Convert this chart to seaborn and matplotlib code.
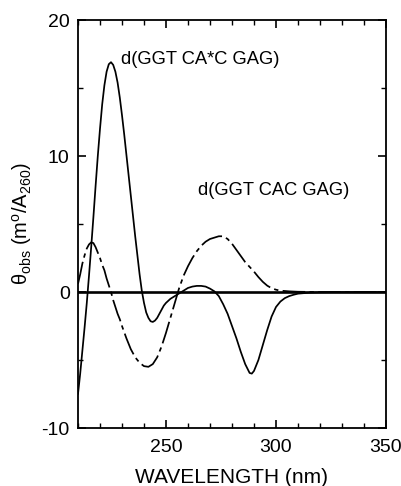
import matplotlib
matplotlib.use("Agg")
import matplotlib.pyplot as plt
from matplotlib.ticker import MultipleLocator
import seaborn as sns
import pandas as pd

# Wavelength (nm) and CD signal
wl_solid = [210, 211, 212, 213, 214, 215, 216, 217, 218, 219, 220, 221, 222, 223, 224, 225,
            226, 227, 228, 229, 230, 231, 232, 233, 234, 235, 236, 237, 238, 239, 240, 241,
            242, 243, 244, 245, 246, 247, 248, 249, 250, 252, 254, 256, 258, 260, 262, 264,
            266, 268, 270, 272, 274, 276, 278, 280, 282, 284, 286, 288, 289, 290, 292, 294,
            296, 298, 300, 302, 304, 306, 308, 310, 315, 320, 330, 340, 350]
theta_solid = [-7.5, -6.0, -4.3, -2.6, -0.8, 1.2, 3.3, 5.5, 7.8, 10.0, 12.0, 13.8, 15.2, 16.2, 16.75, 16.9,
               16.7, 16.2, 15.4, 14.3, 13.0, 11.6, 10.1, 8.6, 7.1, 5.6, 4.1, 2.7, 1.3, 0.1, -0.8, -1.5,
               -1.9, -2.15, -2.2, -2.1, -1.9, -1.6, -1.3, -1.0, -0.8, -0.5, -0.3, -0.1, 0.1, 0.3, 0.4, 0.45,
               0.45, 0.4, 0.25, 0.05, -0.3, -0.9, -1.6, -2.5, -3.4, -4.4, -5.3, -5.95, -6.0, -5.8, -5.0, -3.9,
               -2.8, -1.8, -1.1, -0.7, -0.45, -0.3, -0.2, -0.12, -0.05, -0.02, 0.0, 0.0, 0.0]

wl_dash = [210, 211, 212, 213, 214, 215, 216, 217, 218, 219, 220, 221, 222, 223, 224, 225,
           226, 227, 228, 229, 230, 232, 234, 236, 238, 240, 242, 244, 246, 248, 250, 252,
           254, 256, 258, 260, 262, 264, 266, 268, 270, 272, 274, 276, 278, 280, 282, 284,
           286, 288, 290, 292, 294, 296, 298, 300, 302, 306, 310, 320, 350]
theta_dash = [0.6, 1.3, 2.1, 2.7, 3.2, 3.5, 3.65, 3.6, 3.3, 2.9, 2.5, 2.0, 1.6, 1.0, 0.5, 0.0,
              -0.6, -1.1, -1.6, -2.0, -2.5, -3.4, -4.2, -4.8, -5.2, -5.45, -5.5, -5.3, -4.8, -4.0, -3.0, -1.9,
              -0.8, 0.3, 1.2, 1.9, 2.5, 3.0, 3.4, 3.7, 3.9, 4.0, 4.1, 4.1, 3.9, 3.55, 3.1, 2.65,
              2.2, 1.85, 1.5, 1.1, 0.75, 0.47, 0.28, 0.17, 0.1, 0.05, 0.02, 0.0, 0.0]

label_solid = "d(GGT CA*C GAG)"
label_dash = "d(GGT CAC GAG)"
x_ticks = [250, 300, 350]
y_ticks = [-10, 0, 10, 20]

sns.set_theme(style="ticks")
plt.rcParams['font.family'] = ['Liberation Sans', 'DejaVu Sans']
plt.rcParams['mathtext.fontset'] = 'custom'
plt.rcParams['mathtext.rm'] = 'Liberation Sans'
plt.rcParams['mathtext.it'] = 'Liberation Sans'
plt.rcParams['axes.unicode_minus'] = False

fig = plt.figure(figsize=(4.01, 4.86), dpi=100)
ax = fig.add_axes([0.1945, 0.1193, 0.7681, 0.8395])

df_s = pd.DataFrame({"wl": wl_solid, "theta": theta_solid})
df_d = pd.DataFrame({"wl": wl_dash, "theta": theta_dash})

ax.axhline(0, color="black", lw=1.9, zorder=1)
sns.lineplot(data=df_s, x="wl", y="theta", ax=ax, color="black", lw=1.25, zorder=3)
sns.lineplot(data=df_d, x="wl", y="theta", ax=ax, color="black", lw=1.25,
             linestyle=(0, (13, 2.5, 2.5, 2.5)), zorder=3)

ax.set_xlim(210, 350)
ax.set_ylim(-10, 20)
ax.set_xticks(x_ticks)
ax.set_yticks(y_ticks)
ax.xaxis.set_minor_locator(MultipleLocator(10))
ax.yaxis.set_minor_locator(MultipleLocator(5))
ax.tick_params(axis="both", which="both", direction="in", top=True, right=True,
               colors="black", labelsize=14)
ax.tick_params(which="major", length=6, width=1.2)
ax.tick_params(axis="x", which="major", pad=8)
ax.tick_params(axis="y", which="major", pad=6)
ax.tick_params(which="minor", length=3.5, width=1.0)
for s in ax.spines.values():
    s.set_linewidth(1.3)
    s.set_color("black")

ax.set_xlabel("WAVELENGTH (nm)", fontsize=15, labelpad=8.5, color="black")
ax.set_ylabel("θ$_{\\rm obs}$ (m$^{\\rm o}$/A$_{260}$)", fontsize=14.5, labelpad=5, color="black")

ax.text(229.5, 17.1, label_solid, fontsize=13.2, ha="left", va="center", color="black")
ax.text(264.5, 7.5, label_dash, fontsize=13.2, ha="left", va="center", color="black")

fig.savefig("out.png", dpi=100, facecolor="white")
